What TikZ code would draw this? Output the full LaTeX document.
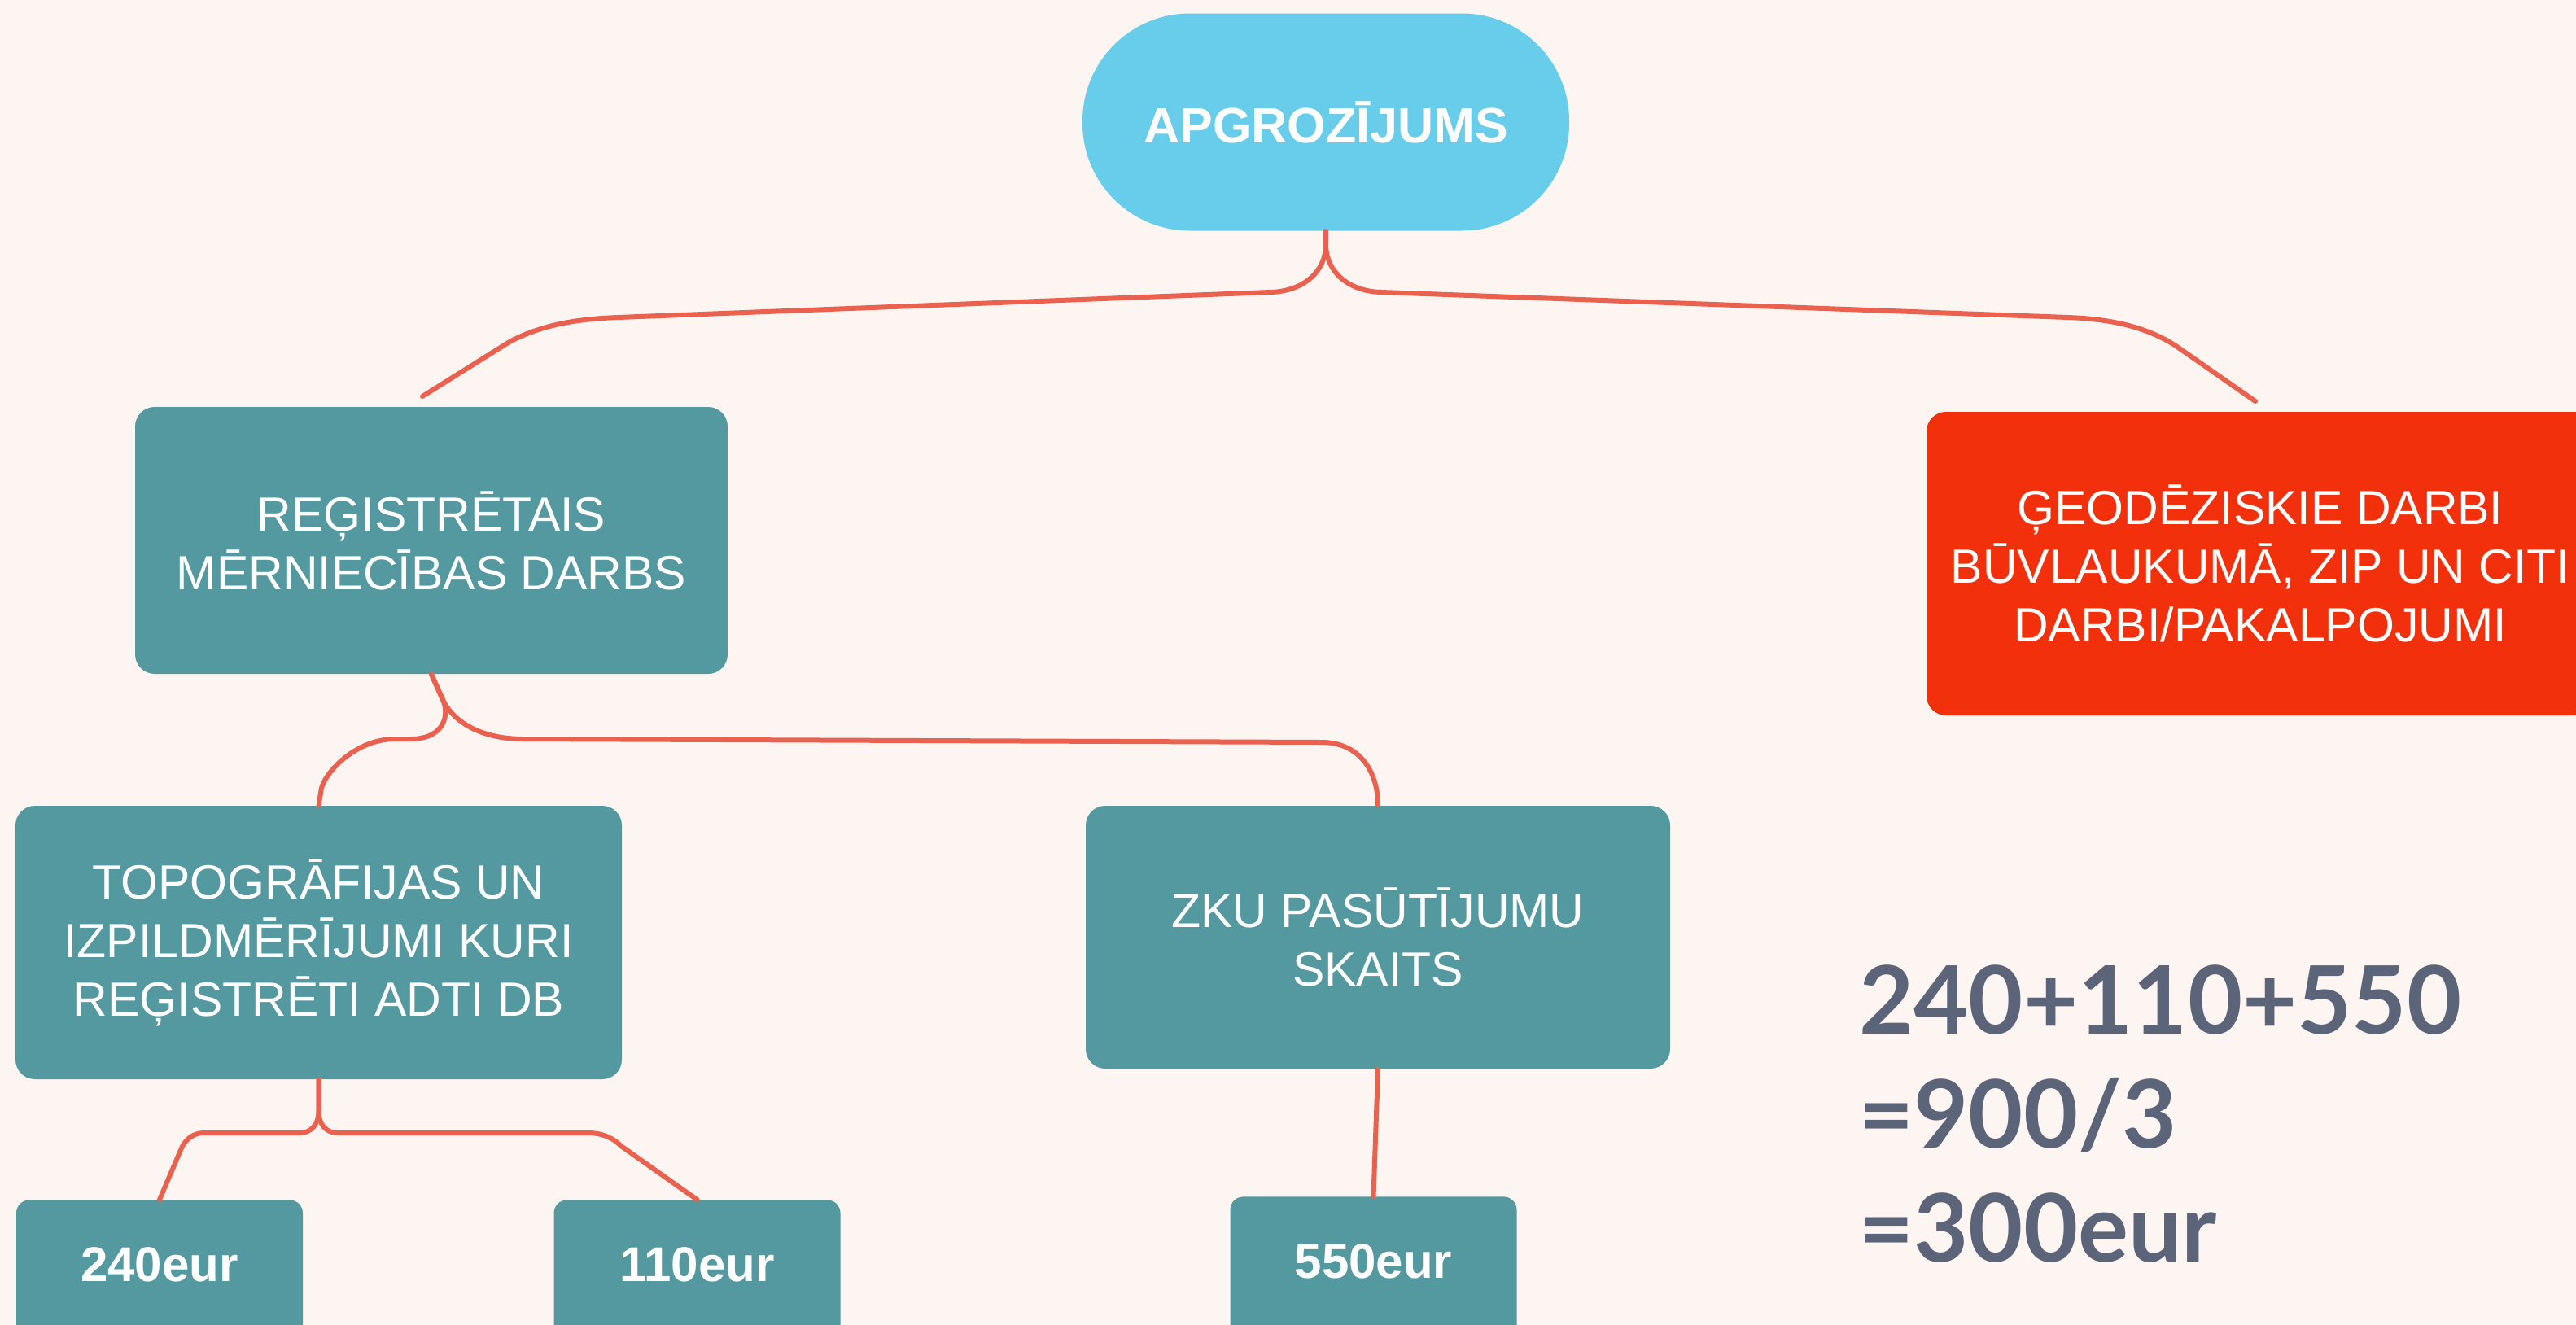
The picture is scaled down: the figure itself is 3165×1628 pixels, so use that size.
\documentclass[tikz,border=0pt]{standalone}
\usepackage{fontspec}
\setmainfont{Liberation Sans}
\newfontfamily\latofont{Lato}
\usetikzlibrary{calc}
\definecolor{bg}{HTML}{FDF5F1}
\definecolor{tealbox}{HTML}{54999F}
\definecolor{sky}{HTML}{67CDEB}
\definecolor{redbox}{HTML}{F2300B}
\definecolor{linkc}{HTML}{EB6150}
\definecolor{slate}{HTML}{5C6479}
\begin{document}
\begin{tikzpicture}[x=0.5pt,y=-0.5pt,
  box/.style={fill=tealbox, rounded corners=12pt, text=white, align=center, inner sep=0pt,
    font=\fontsize{29.5}{36}\selectfont},
  amount/.style={fill=tealbox, rounded corners=8pt, text=white, inner sep=0pt, anchor=north,
    minimum width=176pt, text height=50pt, text depth=45pt, font=\fontsize{30}{36}\selectfont\bfseries},
  link/.style={draw=linkc, line width=3pt, line cap=round, line join=round},
  formula/.style={text=slate, inner sep=0pt, anchor=base west,
    font=\latofont\bfseries\fontsize{58}{70}\selectfont}]
\path[fill=bg, use as bounding box] (0,0) rectangle (3165,1628);
\clip (0,0) rectangle (3165,1628);

% nodes
\node[fill=sky, rounded corners=66pt, minimum width=299pt, minimum height=133.5pt, inner sep=0pt,
  text=white, font=\fontsize{30.5}{36}\selectfont\bfseries] (root) at (1629,150) {APGROZĪJUMS};
\node[box, minimum width=364pt, minimum height=164pt] (reg) at (530,664)
  {REĢISTRĒTAIS\\MĒRNIECĪBAS DARBS};
\node[box, fill=redbox, minimum width=410pt, minimum height=186.5pt] (geo) at (2777,692.5)
  {ĢEODĒZISKIE DARBI\\BŪVLAUKUMĀ, ZIP UN CITI\\DARBI/PAKALPOJUMI};
\node[box, minimum width=372.5pt, minimum height=168pt] (topo) at (391.5,1158)
  {TOPOGRĀFIJAS UN\\IZPILDMĒRĪJUMI KURI\\REĢISTRĒTI ADTI DB};
\node[box, minimum width=359pt, minimum height=161.5pt] (zku) at (1693,1151.5)
  {ZKU PASŪTĪJUMU\\SKAITS};
\node[amount] (b240) at (196,1474) {240eur};
\node[amount] (b110) at (856.5,1474) {110eur};
\node[amount] (b550) at (1687.5,1470) {550eur};

\node[formula] (f1) at (2284,1270) {240+110+550};
\node[formula] (f2) at (2284,1410) {=900/3};
\node[formula] (f3) at (2284,1550) {=300eur};

% connectors
\coordinate (rl) at (519,487);
\coordinate (rr) at (2771,493);
\draw[link] (root.south) -- (1629,300) .. controls (1629,335) and (1600,358) .. (1561,359)
  -- (760,390) .. controls (700,392) and (660,402) .. (626,420) -- (rl);
\draw[link] (root.south) -- (1629,300) .. controls (1629,335) and (1658,358) .. (1697,359)
  -- (2540,390) .. controls (2600,392) and (2640,404) .. (2672,424) -- (rr);

\draw[link] (reg.south) -- (545,862) .. controls (553,885) and (540,908) .. (505,908)
  -- (485,908) .. controls (440,908) and (402,945) .. (395,968) -- (topo.north);
\draw[link] (reg.south) -- (545,862) .. controls (560,890) and (595,908) .. (643,908)
  -- (1624,912) .. controls (1668,912) and (1693,945) .. (zku.north);

\draw[link] (topo.south) -- (391.5,1365) .. controls (391.5,1382) and (382,1392) .. (368,1392)
  -- (250,1392) .. controls (236,1392) and (226,1402) .. (222,1413) -- (b240.north);
\draw[link] (topo.south) -- (391.5,1365) .. controls (391.5,1382) and (401,1392) .. (415,1392)
  -- (722,1392) .. controls (740,1392) and (753,1398) .. (763,1408) -- (b110.north);

\draw[link] (zku.south) -- (b550.north);
\end{tikzpicture}
\end{document}
